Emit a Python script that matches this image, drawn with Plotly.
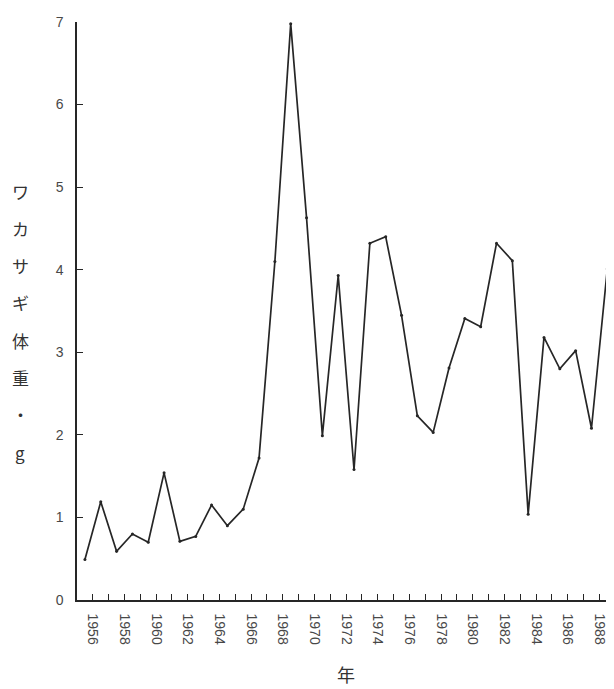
import plotly.graph_objects as go

# Data: annual mean body weight of wakasagi (g), 1955-1988
years = list(range(1955, 1989))
weight_g = [0.49, 1.19, 0.59, 0.80, 0.70, 1.54, 0.71, 0.77, 1.15, 0.90,
            1.10, 1.72, 4.10, 6.98, 4.63, 1.99, 3.93, 1.58, 4.32, 4.40,
            3.45, 2.23, 2.03, 2.81, 3.41, 3.31, 4.32, 4.11, 1.04, 3.18,
            2.80, 3.02, 2.08, 4.01]
tick_years = list(range(1956, 1989, 2))
y_ticks = list(range(0, 8))
y_title_chars = ["ワ", "カ", "サ", "ギ", "体", "重", "・", "g"]
x_title = "年"

# annual values plotted at mid-year
x_pos = [y + 0.5 for y in years]

BODY = 8  # default page body margin
W, H = 614 - BODY, 689 - BODY
# plot area in page pixels: left 77, top 22, bottom 600, right 614
ml, mt = 77 - BODY, 22 - BODY
mr = 0
mb = H - (600 - BODY)
plot_h = H - mt - mb
plot_w = W - ml - mr

ink = "#262626"
label_col = "#484848"
tick_font = dict(family="Liberation Sans, Arial, sans-serif", size=14, color=label_col)

fig = go.Figure()
fig.add_trace(go.Scatter(
    x=x_pos, y=weight_g, mode="lines+markers",
    line=dict(color=ink, width=1.7),
    marker=dict(color=ink, size=3),
    hoverinfo="x+y", showlegend=False,
))

fig.update_xaxes(
    range=[1955, 1955 + plot_w / 15.83],
    tickvals=tick_years, ticktext=[str(t) for t in tick_years],
    tickangle=90, ticks="inside", ticklen=6, tickwidth=1.3, tickcolor=ink,
    minor=dict(dtick=1, tick0=1955, ticks="inside", ticklen=6, tickwidth=1.3, tickcolor=ink),
    showline=True, linecolor=ink, linewidth=1.5,
    showgrid=False, zeroline=False, automargin=False,
    tickfont=tick_font, ticklabelstandoff=9,
)
fig.update_yaxes(
    range=[0, 7], tickvals=y_ticks,
    ticks="inside", ticklen=6, tickwidth=1.3, tickcolor=ink,
    showline=True, linecolor=ink, linewidth=1.5,
    showgrid=False, zeroline=False, automargin=False,
    tickfont=tick_font, ticklabelstandoff=9,
)


def px_to_paper(xp, yp):
    # page pixel -> paper coords
    return ((xp - BODY - ml) / plot_w, (H - mb - (yp - BODY)) / plot_h)


annotations = []
# vertical stacked y-axis title
top_px, step_px, x_px = 191, 37.3, 20
for i, ch in enumerate(y_title_chars):
    px, py = px_to_paper(x_px, top_px + i * step_px)
    annotations.append(dict(
        text=ch, xref="paper", yref="paper", x=px, y=py,
        xanchor="center", yanchor="middle", showarrow=False,
        font=dict(family="Noto Sans CJK JP", size=17, color="#333333"),
    ))
px, py = px_to_paper(346, 674)
annotations.append(dict(
    text=x_title, xref="paper", yref="paper", x=px, y=py,
    xanchor="center", yanchor="middle", showarrow=False,
    font=dict(family="Noto Sans CJK JP", size=18, color="#333333"),
))

fig.update_layout(
    width=W, height=H,
    margin=dict(l=ml, r=mr, t=mt, b=mb, autoexpand=False),
    paper_bgcolor="white", plot_bgcolor="white",
    annotations=annotations,
)

fig.write_html("out.html")
